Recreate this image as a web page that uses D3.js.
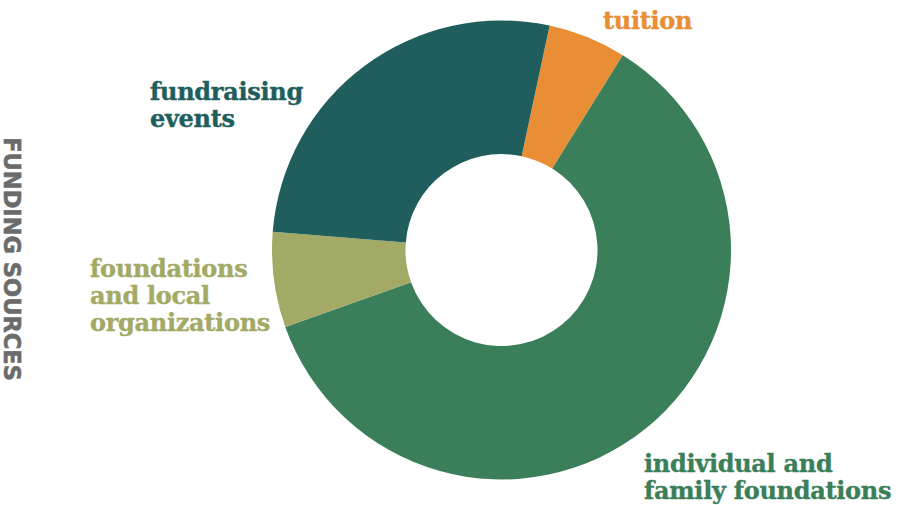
<!DOCTYPE html>
<html><head><meta charset="utf-8">
<script src="https://cdn.jsdelivr.net/npm/d3@7"></script>
<style>body{margin:0;background:#fff}svg{display:block}</style>
</head><body><svg id="c" width="898" height="505"></svg>
<script>
const categories = ["tuition", "individual and family foundations", "foundations and local organizations", "fundraising events"];
const values = [5.5, 60.7, 6.7, 27.1];
const colors = ["#e98e34", "#3a7f5a", "#a3aa66", "#205e5e"];
const labelLines = [["tuition"], ["individual and", "family foundations"], ["foundations", "and local", "organizations"], ["fundraising", "events"]];
const labelPos = [[603, 29], [644, 472], [90, 277], [150, 100]];
const title = "FUNDING SOURCES";

const svg = d3.select("#c");
const cx = 501.5, cy = 250, R = 229.5, r0 = 96;
const data = categories.map((c, i) => ({c, v: values[i], i}));
const pie = d3.pie().sort(null).value(d => d.v)
  .startAngle(12.1 * Math.PI / 180).endAngle(12.1 * Math.PI / 180 + 2 * Math.PI);
const arc = d3.arc().innerRadius(r0).outerRadius(R);
const g = svg.append("g").attr("transform", `translate(${cx},${cy})`);
g.selectAll("path").data(pie(data)).join("path")
  .attr("d", arc).attr("fill", d => colors[d.data.i]);

const lab = svg.append("g").attr("font-family", "'DejaVu Serif', serif").attr("font-weight", "bold").attr("font-size", 24);
labelLines.forEach((lines, i) => {
  const t = lab.append("text").attr("x", labelPos[i][0]).attr("y", labelPos[i][1]).attr("fill", colors[i])
    .attr("letter-spacing", -0.3).attr("stroke", colors[i]).attr("stroke-width", 0.4);
  lines.forEach((l, j) => t.append("tspan").attr("x", labelPos[i][0]).attr("y", labelPos[i][1] + j * 27).text(l));
});

svg.append("text").attr("transform", "translate(4,259) rotate(90)")
  .attr("text-anchor", "middle").attr("font-family", "'DejaVu Sans', sans-serif")
  .attr("font-weight", "bold").attr("font-size", 22.5).attr("fill", "#6b6b6b")
  .attr("stroke", "#6b6b6b").attr("stroke-width", 0.6)
  .text(title);
</script></body></html>
